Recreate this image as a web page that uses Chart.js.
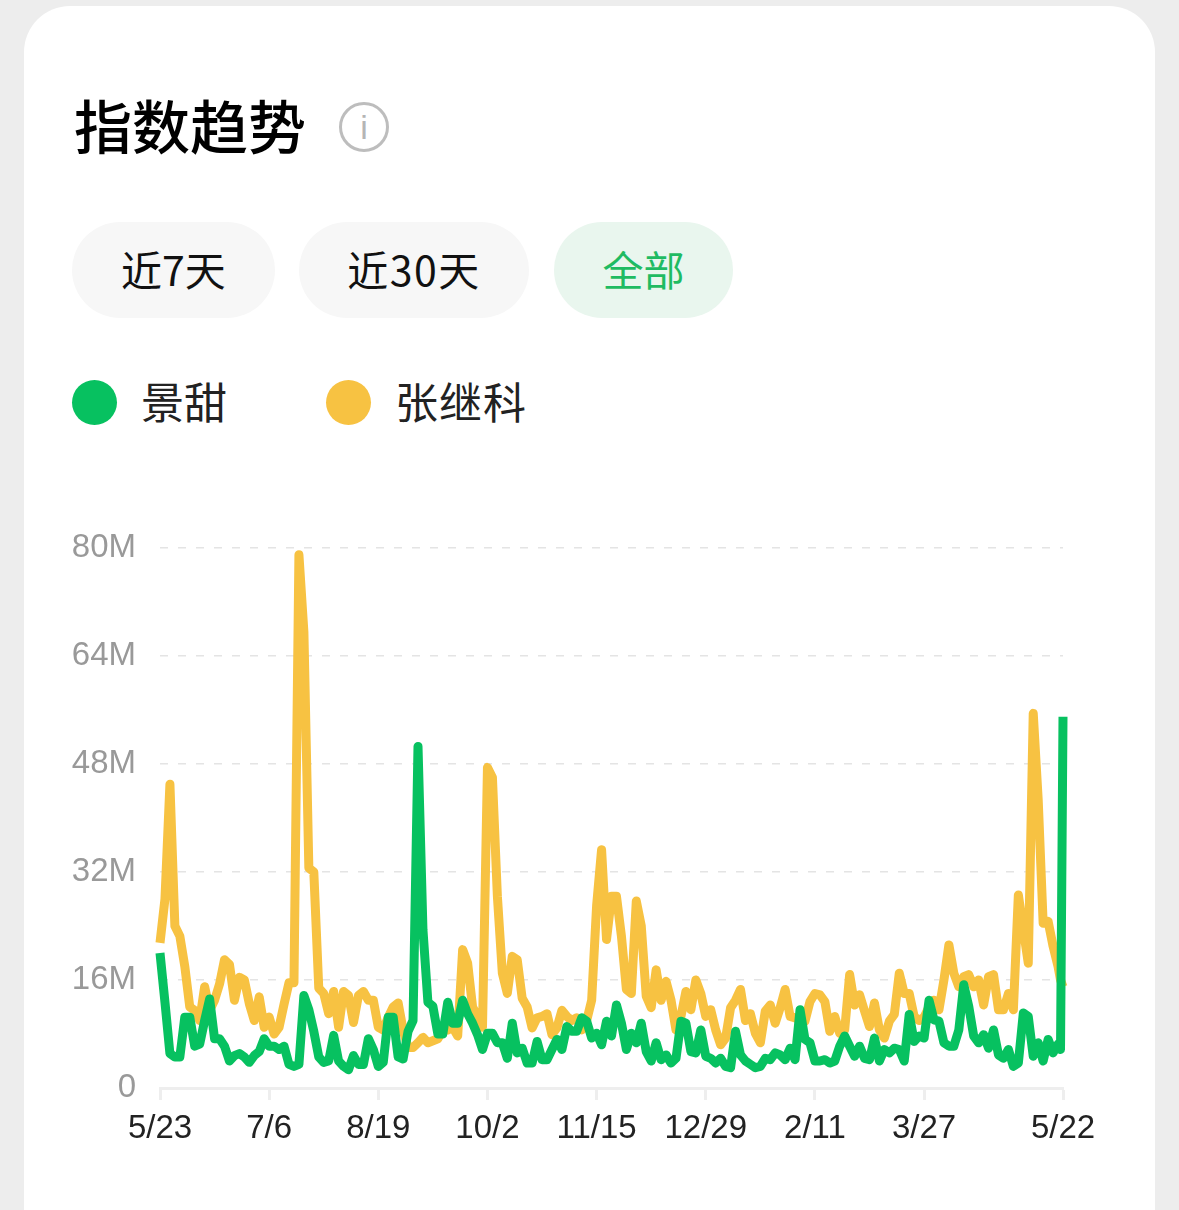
<!DOCTYPE html>
<html>
<head>
<meta charset="utf-8">
<script src="https://cdn.jsdelivr.net/npm/chart.js@4"></script>
<style>
    html, body { margin: 0; padding: 0; width: 1179px; height: 1210px; overflow: hidden; background: #ededed; }
    body { position: relative; font-family: "Noto Sans CJK SC", sans-serif; }
    .card { position: absolute; left: 24px; top: 6px; width: 1131px; height: 1300px; background: #fff; border-radius: 46px; }
    .abs { position: absolute; white-space: nowrap; }
    .title { left: 74px; top: 82px; font-size: 58px; line-height: 84px; font-weight: 500; color: #000; }
    .info { left: 339px; top: 102px; width: 44px; height: 44px; border: 3px solid #bdbdbd; border-radius: 50%; color: #b5b5b5; font: 34px/44px "Liberation Sans"; text-align: center; }
    .pill { top: 222px; height: 96px; border-radius: 48px; background: #f7f7f7; color: #111; font-size: 41px; line-height: 92px; text-align: center; }
    .pill.on { background: #e9f6ee; color: #1fbb62; }
    .dot { top: 380px; width: 45px; height: 45px; border-radius: 50%; }
    .name { top: 369px; font-size: 43px; line-height: 62px; color: #222; }
    #wrap { position: absolute; left: 0; top: 480px; width: 1179px; height: 730px; }
</style>
</head>
<body>
    <div class="card"></div>
    <div class="abs title">指数趋势</div>
    <div class="abs info">i</div>
    <div class="abs pill" style="left:72px;width:203px">近7天</div>
    <div class="abs pill" style="left:299px;width:230px;letter-spacing:1.5px">近30天</div>
    <div class="abs pill on" style="left:554px;width:179px">全部</div>
    <div class="abs dot" style="left:72px;background:#07c160"></div>
    <div class="abs name" id="name0" style="left:141px"></div>
    <div class="abs dot" style="left:326px;background:#f7c242"></div>
    <div class="abs name" id="name1" style="left:395px;letter-spacing:1px"></div>
    <div id="wrap"><canvas id="trendChart" width="1179" height="730"></canvas></div>

    <script>
        const seriesNames = ['景甜', '张继科'];
        const tickDays = [0, 44, 88, 132, 176, 220, 264, 308, 364];
        const tickLabels = ['5/23', '7/6', '8/19', '10/2', '11/15', '12/29', '2/11', '3/27', '5/22'];
        const yTicks = [0, 16, 32, 48, 64, 80];

        // values in millions, one every 2 days, the last two are single days
        const jingtian = [
            20, 12.7, 5.1, 4.6, 4.6, 10.5, 10.5, 6.2, 6.5, 10,
            13.2, 7.3, 7.3, 6.2, 4, 4.8, 5.1, 4.6, 3.8, 4.8,
            5.4, 7.3, 6.2, 6.2, 5.7, 6.2, 3.5, 3.2, 3.5, 13.7,
            11.6, 8.4, 4.6, 3.8, 4, 7.8, 4, 3.2, 2.7, 4.8,
            3.5, 3.5, 7.3, 5.7, 3.2, 3.8, 10.5, 10.5, 4.6, 4.3,
            8.4, 10, 50.6, 23.4, 12.7, 12.1, 8, 8, 12.7, 9.6,
            9.6, 13, 11, 9.6, 7.9, 5.7, 8.1, 8.1, 6.7, 6.7,
            4.4, 9.6, 5.2, 5.9, 3.7, 3.7, 6.9, 4.2, 4.2, 5.7,
            7.2, 5.7, 9.1, 8.4, 8.4, 10.4, 9.9, 7.4, 8.1, 6.4,
            9.9, 7.7, 12.3, 9.6, 5.7, 8.1, 6.7, 9.6, 5.4, 4,
            6.7, 4.2, 4.9, 3.7, 4.4, 9.9, 9.6, 5.4, 5.2, 8.6,
            4.7, 4.4, 3.7, 4.4, 3.2, 3, 8.4, 4.9, 4, 3.5,
            3, 3.2, 4.4, 4.2, 5.2, 4.9, 4.2, 5.9, 4.2, 11.6,
            7.2, 6.7, 4, 4, 4.2, 3.7, 4, 6.2, 7.7, 6.2,
            4.7, 6.2, 4.4, 4.2, 7.4, 4, 5.7, 5.2, 5.9, 5.7,
            4, 10.9, 6.9, 7.7, 7.4, 13, 10.1, 9.9, 6.7, 6.2,
            6.2, 8.6, 15.3, 12.1, 7.7, 6.7, 7.9, 5.9, 8.6, 4.9,
            4.4, 5.7, 3.2, 3.7, 11.1, 10.6, 4.7, 6.7, 4, 7.2,
            5.2, 6.5, 5.7, 55
        ];
        const zhangjike = [
            21.5, 28, 45, 24, 22.5, 18, 12, 11.5, 10, 15,
            11.5, 13, 15.4, 19, 18.3, 13, 16.4, 16, 12.5, 10,
            13.5, 9, 10.5, 8, 9, 12.4, 15.6, 15.6, 79, 67.6,
            32.6, 32, 14.8, 14, 11, 14.3, 9, 14.3, 13.7, 9.7,
            13.7, 14.3, 13, 13, 9, 8.6, 10.5, 12, 12.6, 8.6,
            6, 6, 6.7, 7.5, 6.7, 7, 7.3, 8.6, 8.6, 9,
            7.7, 20.5, 18.5, 12, 10.6, 9, 47.5, 46, 28.4, 17,
            14, 19.5, 19, 13.3, 12, 8.9, 10.4, 10.6, 11, 7.9,
            8.9, 11.5, 10.6, 10, 10.4, 8.6, 10, 13, 27, 35.3,
            22, 28.4, 28.4, 22.5, 14.6, 14, 27.7, 24, 13.6, 11.9,
            17.5, 13, 15.8, 13, 8.6, 10.6, 14.3, 11.6, 16, 14,
            10.6, 11.6, 8.6, 6.4, 7.4, 11.9, 13, 14.6, 10, 11,
            8.1, 6.7, 11.4, 12.3, 9.6, 11.9, 14.6, 10.6, 10.4, 10,
            9.9, 12.8, 14, 13.8, 12.8, 8.4, 10.6, 8.1, 8.6, 16.8,
            12.3, 13.8, 11.4, 9.1, 12.6, 8.6, 7.4, 9.9, 10.9, 17,
            14, 14, 10.6, 10, 10.5, 12, 13, 11.6, 16, 21.2,
            17, 15, 16.5, 16.8, 15, 16, 12.3, 16.5, 16.8, 11.6,
            11.6, 14, 11.6, 28.6, 23.5, 18.5, 55.5, 42.7, 24.4, 24.7,
            21, 18, 16, 15
        ];

        const days = [];
        for (let d = 0; d <= 362; d += 2) days.push(d);
        days.push(363, 364);

        document.getElementById('name0').textContent = seriesNames[0];
        document.getElementById('name1').textContent = seriesNames[1];

        function toPoints(values) {
            return values.map((v, i) => ({ x: days[i], y: v }));
        }

        const axisFont = { family: '"Liberation Sans", sans-serif', size: 33 };

        new Chart(document.getElementById('trendChart').getContext('2d'), {
            type: 'line',
            data: {
                datasets: [
                    { label: seriesNames[0], data: toPoints(jingtian), borderColor: '#07c160' },
                    { label: seriesNames[1], data: toPoints(zhangjike), borderColor: '#f7c242' }
                ]
            },
            options: {
                responsive: false,
                animation: false,
                devicePixelRatio: 1,
                layout: { padding: { top: 68, right: 116 } },
                datasets: {
                    line: {
                        borderWidth: 9,
                        borderJoinStyle: 'round',
                        borderCapStyle: 'butt',
                        pointRadius: 0,
                        tension: 0,
                        clip: false
                    }
                },
                plugins: { legend: { display: false }, tooltip: { enabled: false } },
                scales: {
                    x: {
                        type: 'linear',
                        min: 0,
                        max: 364,
                        afterBuildTicks: scale => { scale.ticks = tickDays.map(v => ({ value: v })); },
                        afterFit: scale => { scale.height = 122; },
                        border: { color: '#eeeeee', width: 3 },
                        grid: { drawOnChartArea: false, drawTicks: true, tickLength: 12, tickColor: '#eeeeee', tickWidth: 3 },
                        ticks: {
                            autoSkip: false,
                            maxRotation: 0,
                            padding: 9,
                            color: '#222',
                            font: axisFont,
                            callback: v => tickLabels[tickDays.indexOf(v)]
                        }
                    },
                    y: {
                        min: 0,
                        max: 80,
                        afterBuildTicks: scale => { scale.ticks = yTicks.map(v => ({ value: v })); },
                        afterFit: scale => { scale.width = 160; },
                        border: { display: false, dash: [8, 10] },
                        grid: { color: '#e4e4e4', lineWidth: 1.5, drawTicks: false },
                        ticks: {
                            padding: 24,
                            color: '#999999',
                            font: axisFont,
                            callback: v => (v === 0 ? '0' : v + 'M')
                        }
                    }
                }
            }
        });
    </script>
</body>
</html>
